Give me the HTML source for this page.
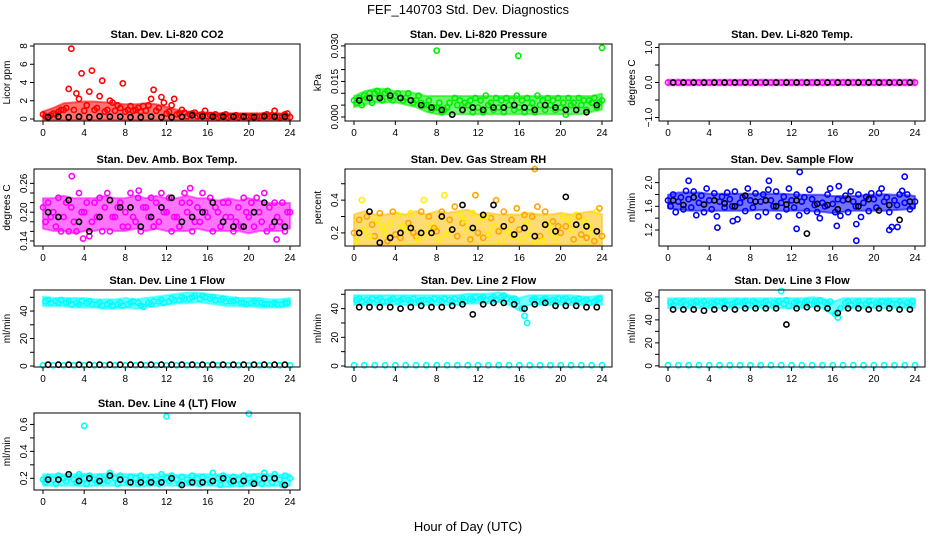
<!DOCTYPE html>
<html><head><meta charset="utf-8"><style>
html,body{margin:0;padding:0;background:#fff;}
svg{display:block;font-family:"Liberation Sans",Arial,sans-serif;}
</style></head><body>
<svg id="chart" width="936" height="540" viewBox="0 0 936 540" xmlns="http://www.w3.org/2000/svg">
<text x="468" y="14" text-anchor="middle" font-size="13">FEF_140703  Std. Dev. Diagnostics</text>
<text x="468" y="531" text-anchor="middle" font-size="13">Hour of Day (UTC)</text>
</svg>
<script>
const hours = [0,1,2,3,4,5,6,7,8,9,10,11,12,13,14,15,16,17,18,19,20,21,22,23,24];
const xTicks = [0,4,8,12,16,20,24];

const co2A=[0.3,0.5,1.2,2.8,1.5,1.2,1.0,1.5,1.0,1.2,1.5,1.2,0.8,0.6,0.5,0.4,0.4,0.3,0.3,0.3,0.3,0.3,0.4,0.3,0.2];
const co2B=[0.2,0.8,3.3,2.2,3.0,2.5,2.0,1.2,1.4,0.8,2.2,2.4,1.5,1.0,0.6,0.5,0.4,0.4,0.3,0.3,0.3,0.4,0.9,0.5,0.2];
const co2C=[0.4,1.0,7.7,5.0,5.3,4.2,1.8,3.9,0.9,1.4,3.2,1.8,2.2,0.7,0.7,0.9,0.5,0.5,0.4,0.3,0.3,0.5,0.3,0.6,0.3];
const co2D=[0.5,0.6,1.0,1.0,0.9,1.0,0.8,0.9,0.8,1.0,0.9,0.9,0.6,0.5,0.3,0.3,0.3,0.2,0.2,0.2,0.2,0.2,0.3,0.2,0.2];
const co2K=[0.2,0.25,0.2,0.25,0.2,0.3,0.25,0.25,0.2,0.2,0.25,0.2,0.2,0.25,0.4,0.3,0.25,0.25,0.25,0.25,0.2,0.3,0.25,0.25,0.2];
const co2Lo=[0.1,0.1,0.1,0.1,0.1,0.1,0.1,0.1,0.1,0.1,0.1,0.1,0.1,0.1,0.1,0.1,0.1,0.1,0.1,0.1,0.1,0.1,0.1,0.1,0.1];
const co2Hi=[0.6,1.0,1.5,1.6,1.7,1.7,1.6,1.5,1.4,1.4,1.5,1.4,1.1,0.8,0.6,0.5,0.5,0.4,0.4,0.4,0.4,0.4,0.4,0.4,0.3];

const presA=[0.007,0.009,0.010,0.010,0.009,0.008,0.007,0.005,0.004,0.004,0.005,0.005,0.004,0.005,0.004,0.005,0.004,0.004,0.005,0.005,0.004,0.005,0.005,0.006,0.007];
const presB=[0.006,0.008,0.011,0.011,0.010,0.010,0.009,0.007,0.006,0.006,0.007,0.007,0.007,0.006,0.007,0.007,0.007,0.006,0.007,0.007,0.006,0.006,0.007,0.008,0.008];
const presC=[0.008,0.010,0.009,0.008,0.008,0.007,0.006,0.003,0.002,0.001,0.003,0.002,0.002,0.003,0.002,0.003,0.002,0.002,0.003,0.003,0.001,0.003,0.003,0.004,0.005];
const presD=[0.005,0.006,0.007,0.007,0.007,0.006,0.005,0.004,0.003,0.008,0.006,0.008,0.009,0.008,0.008,0.009,0.008,0.009,0.008,0.008,0.008,0.008,0.007,0.006,0.006];
const presK=[0.007,0.008,0.008,0.009,0.008,0.007,0.005,0.004,0.003,0.001,0.003,0.004,0.003,0.004,0.004,0.005,0.004,0.003,0.005,0.004,0.003,0.003,0.002,0.005,0.005];
const presOutX=[8,15.9,24];
const presOutY=[0.028,0.0258,0.0292];
const presLo=[0.005,0.006,0.007,0.007,0.007,0.006,0.005,0.003,0.002,0.002,0.002,0.002,0.002,0.002,0.002,0.002,0.002,0.002,0.002,0.002,0.002,0.002,0.002,0.003,0.004];
const presHi=[0.008,0.010,0.011,0.011,0.010,0.010,0.009,0.008,0.008,0.008,0.008,0.008,0.008,0.008,0.008,0.008,0.008,0.008,0.008,0.008,0.008,0.008,0.008,0.008,0.009];

const tempA=[0,0,0,0,0,0,0,0,0,0,0,0,0,0,0,0,0,0,0,0,0,0,0,0,0];
const tempK=[0,0,0,0,0,0,0,0,0,0,0,0,0,0,0,0,0,0,0,0,0,0,0,0,0];
const tempLo=[-0.02,-0.02,-0.02,-0.02,-0.02,-0.02,-0.02,-0.02,-0.02,-0.02,-0.02,-0.02,-0.02,-0.02,-0.02,-0.02,-0.02,-0.02,-0.02,-0.02,-0.02,-0.02,-0.02,-0.02,-0.02];
const tempHi=[0.02,0.02,0.02,0.02,0.02,0.02,0.02,0.02,0.02,0.02,0.02,0.02,0.02,0.02,0.02,0.02,0.02,0.02,0.02,0.02,0.02,0.02,0.02,0.02,0.02];

const ambA=[0.21,0.20,0.19,0.18,0.20,0.22,0.21,0.19,0.20,0.18,0.21,0.22,0.20,0.19,0.20,0.21,0.19,0.20,0.22,0.21,0.19,0.20,0.21,0.18,0.20];
const ambB=[0.18,0.17,0.22,0.16,0.22,0.19,0.24,0.21,0.17,0.23,0.19,0.18,0.23,0.17,0.22,0.18,0.23,0.17,0.19,0.17,0.22,0.18,0.17,0.22,0.19];
const ambC=[0.22,0.23,0.16,0.24,0.15,0.23,0.16,0.22,0.24,0.16,0.23,0.24,0.16,0.22,0.16,0.24,0.16,0.22,0.16,0.23,0.17,0.24,0.22,0.16,0.22];
const ambD=[0.19,0.16,0.21,0.20,0.18,0.16,0.19,0.17,0.19,0.21,0.17,0.20,0.19,0.24,0.18,0.20,0.21,0.19,0.18,0.20,0.23,0.16,0.19,0.20,0.17];
const ambK=[0.20,0.19,0.225,0.18,0.16,0.19,0.225,0.21,0.21,0.17,0.19,0.21,0.23,0.18,0.19,0.20,0.22,0.18,0.17,0.17,0.20,0.22,0.18,0.17,0.19];
const ambOutX=[2.8,9.3,14.3,3.9,22.7];
const ambOutY=[0.275,0.245,0.25,0.145,0.143];
const ambLo=[0.17,0.165,0.165,0.16,0.165,0.165,0.17,0.165,0.165,0.17,0.165,0.17,0.165,0.165,0.165,0.17,0.165,0.165,0.165,0.165,0.16,0.165,0.165,0.165,0.17];
const ambHi=[0.225,0.225,0.23,0.225,0.225,0.225,0.23,0.225,0.225,0.23,0.225,0.23,0.225,0.225,0.23,0.225,0.225,0.22,0.225,0.22,0.225,0.22,0.215,0.215,0.215];

const rhA=[0.20,0.22,0.18,0.20,0.19,0.22,0.18,0.20,0.21,0.19,0.18,0.22,0.20,0.19,0.21,0.20,0.22,0.19,0.18,0.21,0.20,0.22,0.19,0.20,0.18];
const rhB=[0.15,0.30,0.28,0.15,0.31,0.26,0.16,0.30,0.16,0.28,0.31,0.16,0.27,0.29,0.15,0.28,0.16,0.30,0.15,0.27,0.30,0.16,0.28,0.15,0.29];
const rhC=[0.28,0.18,0.32,0.26,0.17,0.32,0.33,0.24,0.33,0.22,0.26,0.32,0.17,0.24,0.33,0.18,0.31,0.15,0.33,0.17,0.24,0.31,0.17,0.33,0.22];
const rhD=[0.40,0.25,0.24,0.33,0.24,0.20,0.40,0.23,0.43,0.36,0.28,0.43,0.30,0.40,0.22,0.35,0.26,0.36,0.25,0.24,0.28,0.30,0.24,0.35,0.21];
const rhK=[0.20,0.33,0.14,0.17,0.20,0.23,0.20,0.20,0.30,0.22,0.37,0.23,0.31,0.37,0.24,0.19,0.23,0.18,0.25,0.21,0.42,0.25,0.24,0.21,0.28];
const rhOutX=[17.5];
const rhOutY=[0.59];
const rhLo=[0.14,0.14,0.14,0.14,0.14,0.14,0.14,0.14,0.14,0.14,0.14,0.14,0.14,0.14,0.14,0.14,0.14,0.14,0.14,0.14,0.14,0.14,0.14,0.14,0.14];
const rhHi=[0.30,0.32,0.30,0.30,0.31,0.30,0.32,0.30,0.32,0.31,0.32,0.33,0.30,0.31,0.30,0.30,0.30,0.31,0.30,0.30,0.31,0.30,0.31,0.32,0.30];

const sfA=[1.70,1.68,1.72,1.66,1.70,1.68,1.72,1.66,1.70,1.68,1.70,1.66,1.70,1.68,1.72,1.66,1.64,1.70,1.68,1.66,1.72,1.68,1.70,1.66,1.68];
const sfB=[1.60,1.75,1.58,1.78,1.55,1.76,1.60,1.75,1.58,1.80,1.60,1.76,1.58,1.75,1.62,1.60,1.50,1.78,1.60,1.76,1.58,1.75,1.62,1.80,1.60];
const sfC=[1.80,1.55,1.85,1.50,1.82,1.58,1.85,1.52,1.82,1.50,1.85,1.55,1.80,1.52,1.50,1.80,1.72,1.50,1.80,1.52,1.82,1.50,1.80,1.55,1.75];
const sfD=[1.50,1.86,1.45,1.90,1.43,1.83,1.38,1.90,1.43,1.88,1.43,1.90,1.45,1.88,1.40,1.90,1.44,1.85,1.42,1.82,1.90,1.25,1.86,1.60,1.55];
const sfK=[1.70,1.62,1.75,1.63,1.70,1.65,1.60,1.78,1.68,1.70,1.60,1.63,1.70,1.14,1.64,1.62,1.55,1.72,1.60,1.72,1.53,1.62,1.37,1.68,1.62];
const sfOutX=[2,4.8,6.3,9.8,12.8,12.5,16.4,16.6,18.3,23,21.5,22.3,18.3];
const sfOutY=[2.03,1.24,1.35,2.03,2.18,1.22,1.27,1.94,1.30,2.10,1.20,1.25,1.02];
const sfLo=[1.60,1.58,1.56,1.56,1.56,1.56,1.56,1.56,1.56,1.57,1.56,1.56,1.56,1.56,1.55,1.54,1.52,1.54,1.56,1.56,1.56,1.56,1.57,1.58,1.60];
const sfHi=[1.76,1.80,1.80,1.80,1.78,1.78,1.78,1.78,1.78,1.78,1.78,1.78,1.77,1.76,1.76,1.76,1.74,1.74,1.74,1.75,1.76,1.77,1.76,1.76,1.74];

const l1A=[47,47,46,46,46,45,45,45,45,46,46,47,47,48,49,49,49,48,47,46,46,46,45,45,46];
const l1B=[48,46,47,45,47,46,46,46,46,44,45,48,49,50,50,51,50,49,47,46,47,45,46,46,48];
const l1C=[46,48,45,47,45,44,44,44,47,43,47,46,48,49,51,50,48,47,48,45,46,45,45,46,50];
const l1Z=[0.5,0.5,0.5,0.5,0.5,0.5,0.5,0.5,0.5,0.5,0.5,0.5,0.5,0.5,0.5,0.5,0.5,0.5,0.5,0.5,0.5,0.5,0.5,0.5,0.5];
const l1K=[1,1,1,1,1,1,1,1,1,1,1,1,1,1,1,1,1,1,1,1,1,1,1,1,1];
const l1Lo=[45,45,45,44,44,44,43,43,44,43,44,45,46,47,47,48,47,46,45,45,45,44,44,44,45];
const l1Hi=[49,48,48,48,48,47,47,47,48,47,48,49,50,51,52,52,51,50,49,48,48,48,47,47,48];

const l2A=[46,46,46,45,45,46,45,46,46,46,46,47,47,47,48,46,40,46,46,46,46,46,45,45,46];
const l2B=[47,45,47,46,46,45,46,45,45,45,47,46,48,48,49,47,35,47,47,45,47,45,46,46,47];
const l2C=[45,47,45,47,47,47,46,47,47,47,45,48,46,46,47,45,30,45,45,47,45,47,44,47,48];
const l2Z=[0.5,0.5,0.5,0.5,0.5,0.5,0.5,0.5,0.5,0.5,0.5,0.5,0.5,0.5,0.5,0.5,0.5,0.5,0.5,0.5,0.5,0.5,0.5,0.5,0.5];
const l2K=[41,41,41,41,40,41,42,41,41,42,43,36,43,44,44,43,40,43,44,42,42,42,41,41,41];
const l2Lo=[44,44,44,44,44,44,44,44,44,44,44,45,45,45,46,44,40,44,44,44,44,44,44,44,44];
const l2Hi=[48,48,48,48,48,48,48,48,48,48,48,49,49,49,50,48,46,48,48,48,48,48,47,47,48];

const l3A=[55,55,55,54,55,55,54,55,56,55,55,54,55,55,56,55,45,55,55,54,55,55,54,55,56];
const l3B=[53,56,54,56,54,56,55,56,55,56,54,57,56,56,55,54,42,56,56,56,54,56,56,54,55];
const l3C=[56,53,56,53,56,53,56,53,54,53,56,52,54,53,57,56,50,53,53,53,56,54,53,56,53];
const l3Z=[0.5,0.5,0.5,0.5,0.5,0.5,0.5,0.5,0.5,0.5,0.5,0.5,0.5,0.5,0.5,0.5,0.5,0.5,0.5,0.5,0.5,0.5,0.5,0.5,0.5];
const l3K=[49,49,49,48,49,50,49,50,50,50,50,36,50,51,50,50,46,50,50,49,50,50,49,49,48];
const l3OutX=[11];
const l3OutY=[65];
const l3Lo=[52,52,52,52,52,52,52,52,52,52,52,52,52,52,53,52,46,52,52,52,52,52,52,52,52];
const l3Hi=[57,57,57,57,57,57,57,57,57,57,57,57,57,57,58,57,54,57,57,57,57,57,57,57,57];

const l4A=[0.19,0.19,0.20,0.19,0.20,0.19,0.19,0.20,0.19,0.20,0.19,0.19,0.20,0.19,0.19,0.20,0.19,0.20,0.19,0.19,0.20,0.19,0.20,0.19,0.20];
const l4B=[0.17,0.16,0.18,0.17,0.16,0.17,0.18,0.16,0.17,0.16,0.17,0.16,0.18,0.16,0.17,0.16,0.17,0.15,0.17,0.16,0.17,0.16,0.17,0.15,0.17];
const l4C=[0.21,0.22,0.21,0.23,0.22,0.21,0.24,0.22,0.21,0.22,0.21,0.23,0.22,0.21,0.22,0.21,0.24,0.22,0.21,0.22,0.21,0.24,0.23,0.22,0.21];
const l4K=[0.19,0.19,0.23,0.18,0.20,0.18,0.22,0.19,0.17,0.17,0.17,0.17,0.20,0.15,0.17,0.17,0.18,0.20,0.18,0.18,0.16,0.20,0.20,0.15,0.20];
const l4OutX=[4,12,20];
const l4OutY=[0.59,0.66,0.68];
const l4Lo=[0.16,0.16,0.16,0.16,0.155,0.16,0.16,0.16,0.16,0.155,0.155,0.16,0.16,0.16,0.16,0.16,0.16,0.155,0.15,0.155,0.16,0.16,0.155,0.16,0.16];
const l4Hi=[0.215,0.215,0.215,0.215,0.22,0.215,0.22,0.215,0.215,0.215,0.21,0.215,0.215,0.21,0.21,0.215,0.215,0.215,0.21,0.21,0.215,0.22,0.215,0.21,0.215];

const NS='http://www.w3.org/2000/svg';
const svg=document.getElementById('chart');
const colLeft=[34,345,659], colRight=[300,612,925];
const rowTop=[44,169,290,413], boxH=77;

function mk(tag,attrs,parent){const e=document.createElementNS(NS,tag);for(const k in attrs)e.setAttribute(k,attrs[k]);(parent||svg).appendChild(e);return e;}

const panels=[
 {key:'co2',c:0,r:0,title:'Stan. Dev. Li-820 CO2',ylab:'Licor ppm',ymin:-0.22,ymax:8.22,ticks:[0,2,4,6,8],labs:['0','2','4','6','8'],col:'#ff0000',series:[co2D,co2A,co2B,co2C],black:co2K,lo:co2Lo,hi:co2Hi},
 {key:'pressure',c:1,r:0,title:'Stan. Dev. Li-820 Pressure',ylab:'kPa',ymin:-0.0017,ymax:0.0308,ticks:[0,0.005,0.01,0.015,0.02,0.025,0.03],labs:['0.000','','','0.015','','','0.030'],col:'#00ee00',series:[presA,presB,presC,presD],black:presK,outX:presOutX,outY:presOutY,lo:presLo,hi:presHi},
 {key:'temp',c:2,r:0,title:'Stan. Dev. Li-820 Temp.',ylab:'degrees C',ymin:-1.1,ymax:1.1,ticks:[-1,-0.5,0,0.5,1],labs:['\u22121.0','','0.0','','1.0'],col:'#ff00ff',series:[tempA],black:tempK,lo:tempLo,hi:tempHi},
 {key:'ambbox',c:0,r:1,title:'Stan. Dev. Amb. Box Temp.',ylab:'degrees C',ymin:0.1295,ymax:0.29,ticks:[0.14,0.16,0.18,0.2,0.22,0.24,0.26],labs:['0.14','','','0.20','','','0.26'],col:'#ff00ff',series:[ambA,ambB,ambC,ambD],black:ambK,outX:ambOutX,outY:ambOutY,lo:ambLo,hi:ambHi},
 {key:'rh',c:1,r:1,title:'Stan. Dev. Gas Stream RH',ylab:'percent',ymin:0.12,ymax:0.59,ticks:[0.2,0.3,0.4,0.5],labs:['0.2','','0.4',''],col:'#ffa500',alt:'#ffee00',band:'#ffc000',series:[rhA,rhB,rhC,rhD],black:rhK,outX:rhOutX,outY:rhOutY,lo:rhLo,hi:rhHi},
 {key:'sampleflow',c:2,r:1,title:'Stan. Dev. Sample Flow',ylab:'ml/min',ymin:0.93,ymax:2.23,ticks:[1.2,1.4,1.6,1.8,2.0],labs:['1.2','','1.6','','2.0'],col:'#0000ff',series:[sfA,sfB,sfC,sfD],black:sfK,outX:sfOutX,outY:sfOutY,lo:sfLo,hi:sfHi},
 {key:'line1',c:0,r:2,title:'Stan. Dev. Line 1 Flow',ylab:'ml/min',ymin:-0.7,ymax:55.3,ticks:[0,10,20,30,40,50],labs:['0','','20','','40',''],col:'#00ffff',series:[l1Z,l1A,l1B,l1C],black:l1K,lo:l1Lo,hi:l1Hi},
 {key:'line2',c:1,r:2,title:'Stan. Dev. Line 2 Flow',ylab:'ml/min',ymin:-0.7,ymax:53,ticks:[0,10,20,30,40,50],labs:['0','','20','','40',''],col:'#00ffff',series:[l2Z,l2A,l2B,l2C],black:l2K,lo:l2Lo,hi:l2Hi},
 {key:'line3',c:2,r:2,title:'Stan. Dev. Line 3 Flow',ylab:'ml/min',ymin:-1,ymax:66,ticks:[0,10,20,30,40,50,60],labs:['0','','20','','40','','60'],col:'#00ffff',series:[l3Z,l3A,l3B,l3C],black:l3K,outX:l3OutX,outY:l3OutY,lo:l3Lo,hi:l3Hi},
 {key:'line4',c:0,r:3,title:'Stan. Dev. Line 4 (LT) Flow',ylab:'ml/min',ymin:0.113,ymax:0.685,ticks:[0.2,0.3,0.4,0.5,0.6],labs:['0.2','','0.4','','0.6'],col:'#00ffff',series:[l4A,l4B,l4C],black:l4K,outX:l4OutX,outY:l4OutY,lo:l4Lo,hi:l4Hi}
];

const offsets=[0,0.25,0.5,0.75];
panels.forEach(p=>{
 const L=colLeft[p.c],R=colRight[p.c],T=rowTop[p.r],B=T+boxH;
 const x0=L+9,x1=R-10;
 const xs=h=>x0+(x1-x0)*h/24;
 const ys=v=>B-(v-p.ymin)/(p.ymax-p.ymin)*boxH;
 const g=mk('g',{});
 
 
 const t=mk('text',{x:(L+R)/2,y:T-6,'text-anchor':'middle','font-size':'11','font-weight':'bold'},g);
 
 
 t.textContent=p.title;
 const yl=mk('text',{x:0,y:0,'text-anchor':'middle','font-size':'10',transform:`translate(${L-24},${(T+B)/2}) rotate(-90)`},g);
 
 
 yl.textContent=p.ylab;
 if(p.lo){
  let d='';
  p.hi.forEach((v,i)=>{d+=(i?'L':'M')+xs(hours[i]).toFixed(1)+','+(ys(v)-2).toFixed(1);});
  for(let i=p.lo.length-1;i>=0;i--){d+='L'+xs(hours[i]).toFixed(1)+','+(ys(p.lo[i])+2).toFixed(1);}
  d+='Z';
  const bc=p.band||p.col;
  const band=mk('path',{d:d,fill:bc,'fill-opacity':'0.55',stroke:bc,'stroke-opacity':'0.55','stroke-width':'2','stroke-linejoin':'round'},g);
  
  
 }
 const pts=mk('g',{fill:'none','stroke-width':'1.6'},g);
 
 
 p.series.forEach((arr,si)=>{
  arr.forEach((v,i)=>{
   const h=hours[i]+offsets[si%4];
   if(h>24.1)return;
   const col=(p.alt&&(i+si)%2)?p.alt:p.col;
   const c=mk('circle',{cx:xs(h).toFixed(1),cy:ys(v).toFixed(1),r:'2.6',stroke:col},pts);
   
   
  });
 });
 if(p.outX){p.outX.forEach((h,i)=>{
  const c=mk('circle',{cx:xs(h).toFixed(1),cy:ys(p.outY[i]).toFixed(1),r:'2.6',stroke:p.col},pts);
  
  
 });}
 p.black.forEach((v,i)=>{
  const h=hours[i]+0.5;
  if(h>24.1)return;
  const c=mk('circle',{cx:xs(Math.min(h,24)).toFixed(1),cy:ys(v).toFixed(1),r:'2.6',stroke:'#000'},pts);
  
  
 });
 const bx=mk('rect',{x:L,y:T,width:R-L,height:boxH,fill:'none',stroke:'#000','stroke-width':'1'},g);
 
 
 const xa=mk('g',{},g);
 
 
 xTicks.forEach(v=>{
  mk('line',{x1:xs(v),x2:xs(v),y1:B,y2:B+4,stroke:'#000'},xa);
  const tl=mk('text',{x:xs(v),y:B+15,'text-anchor':'middle','font-size':'10'},xa);
  
  
  tl.textContent=v;
 });
 const ya=mk('g',{},g);
 
 
 p.ticks.forEach((v,i)=>{
  const y=ys(v);
  mk('line',{x1:L-4,x2:L,y1:y,y2:y,stroke:'#000'},ya);
  if(p.labs[i]){
   const tl=mk('text',{x:0,y:0,'text-anchor':'middle','font-size':'10',transform:`translate(${L-7},${y}) rotate(-90)`},ya);
   
   
   tl.textContent=p.labs[i];
  }
 });
});
</script>
</body></html>
